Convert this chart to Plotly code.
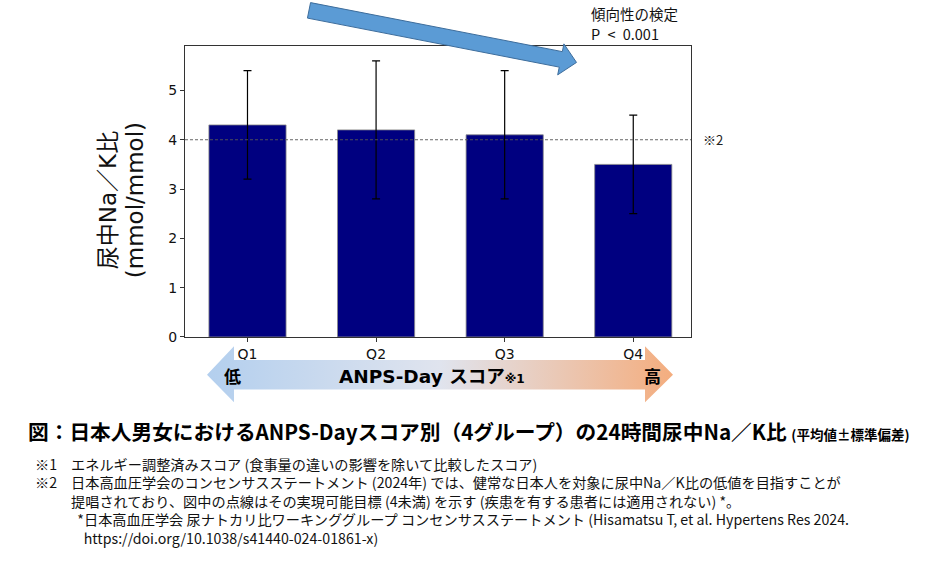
import math
import plotly.graph_objects as go

# ---------------- data ----------------
categories = ["Q1", "Q2", "Q3", "Q4"]
means = [4.3, 4.2, 4.1, 3.5]
sd_plus = [1.1, 1.4, 1.3, 1.0]
sd_minus = [1.1, 1.4, 1.3, 1.0]
target_value = 4
y_ticks = [0, 1, 2, 3, 4, 5]

y_title_line1 = "尿中Na／K比"
y_title_line2 = "(mmol/mmol)"
trend_label = "傾向性の検定"
trend_p = "P\u2002<\u20020.001"
target_mark = "※2"
score_label = "ANPS-Day スコア"
low_label = "低"
high_label = "高"
caption_main = "図：日本人男女におけるANPS-Dayスコア別（4グループ）の24時間尿中Na／K比"
caption_sub = "(平均値±標準偏差)"
footnote_marks = ["※1", "※2"]
footnote_lines = [
    "エネルギー調整済みスコア (食事量の違いの影響を除いて比較したスコア)",
    "日本高血圧学会のコンセンサスステートメント (2024年) では、健常な日本人を対象に尿中Na／K比の低値を目指すことが",
    "提唱されており、図中の点線はその実現可能目標 (4未満) を示す (疾患を有する患者には適用されない) *。",
    "\u00a0\u00a0*日本高血圧学会 尿ナトカリ比ワーキンググループ コンセンサスステートメント (Hisamatsu T, et al. Hypertens Res 2024.",
    "\u00a0\u00a0\u00a0\u00a0https://doi.org/10.1038/s41440-024-01861-x)",
]

# ---------------- layout geometry (pixels) ----------------
W, H = 937, 579
PL, PR, PT, PB = 185, 691, 47, 341.7

LATIN = "DejaVu Sans, Noto Sans CJK JP, sans-serif"
CJK = "Noto Sans CJK JP, sans-serif"

fig = go.Figure()

fig.add_trace(go.Bar(
    x=categories, y=means, width=0.6,
    marker=dict(color="#000080", line=dict(color="#8a8a8a", width=0.8)),
    error_y=dict(type="data", symmetric=False, array=sd_plus, arrayminus=sd_minus,
                 color="#000000", thickness=1.2, width=4),
    xaxis="x", yaxis="y", hoverinfo="skip", showlegend=False,
))

# gradient double arrow (decoration, in pixel space on overlay axes)
gx = [207, 234, 234, 645, 645, 673, 645, 645, 234, 234, 207]
gy = [380, 351, 365, 365, 351, 380, 408, 395, 395, 408, 380]
fig.add_trace(go.Scatter(
    x=gx, y=gy, mode="lines", line=dict(width=0), fill="toself",
    fillgradient=dict(type="horizontal",
                      colorscale=[[0, "#B3CFEE"], [0.5, "#E0E4EE"], [1, "#F4AD7E"]]),
    xaxis="x2", yaxis="y2", hoverinfo="skip", showlegend=False,
))

# blue trend arrow polygon
S = (309.0, 10.5)
T = (576.5, 63.3)
dx, dy = T[0] - S[0], T[1] - S[1]
L = math.hypot(dx, dy)
ux, uy = dx / L, dy / L
nx, ny = -uy, ux
hw, HW, HL = 8, 16, 16
B = (T[0] - HL * ux, T[1] - HL * uy)
pts = [
    (S[0] - hw * nx, S[1] - hw * ny),
    (B[0] - hw * nx, B[1] - hw * ny),
    (B[0] - HW * nx, B[1] - HW * ny),
    T,
    (B[0] + HW * nx, B[1] + HW * ny),
    (B[0] + hw * nx, B[1] + hw * ny),
    (S[0] + hw * nx, S[1] + hw * ny),
]
path = "M " + " L ".join(f"{p[0]:.2f},{p[1]:.2f}" for p in pts) + " Z"
fig.add_shape(type="path", path=path, xref="x2", yref="y2",
              fillcolor="#5B9BD5", line=dict(color="#3D6D9C", width=1), layer="above")

# dashed target line
fig.add_shape(type="line", xref="x domain", yref="y", x0=0, x1=1,
              y0=target_value, y1=target_value,
              line=dict(color="#555555", width=0.9, dash="3px,2px"), layer="above")

ann = []
def A(x, y, text, size, family=CJK, xanchor="left", angle=0, color="#000000",
      yanchor="middle"):
    ann.append(dict(x=x, y=y, xref="x2", yref="y2", text=text, showarrow=False,
                    xanchor=xanchor, yanchor=yanchor, textangle=angle, align="left",
                    borderpad=0,
                    font=dict(family=family, size=size, color=color)))

A(108, 203, y_title_line1, 23, LATIN, "center", -90, "#111111")
A(135, 203, y_title_line2, 23, LATIN, "center", -90, "#111111")
A(590, 13.5, trend_label, 14.5, CJK, color="#111111")
A(590, 34, trend_p, 14.5, CJK, color="#111111")
A(702, 141, target_mark, 13, CJK, color="#222222")
A(232, 381, f"<b>{low_label}</b>", 17, CJK, "center")
A(652, 381, f"<b>{high_label}</b>", 17, CJK, "center")
A(338, 382, f"<b>{score_label}</b><span style='font-size:12px'><b>※1</b></span>", 18.5, LATIN)
A(27, 437, f"<b>{caption_main}</b> <span style='font-size:13.5px'><b>{caption_sub}</b></span>", 20.7, CJK)

# footnotes: marks column + text column (multi-line blocks)
A(34, 480, "<br>".join(footnote_marks), 14.2, CJK, color="#111111")
A(70, 508.5, "<br>".join(footnote_lines), 14.2, CJK, color="#111111")

fig.update_layout(
    width=W, height=H, autosize=False,
    margin=dict(l=0, r=0, t=0, b=0, pad=0),
    paper_bgcolor="#ffffff", plot_bgcolor="rgba(0,0,0,0)",
    showlegend=False, bargap=0.4,
    annotations=ann,
    xaxis=dict(domain=[PL / W, PR / W], range=[-0.486, 3.449], type="category",
               showline=True, mirror=True, linecolor="#333333", linewidth=1.3,
               ticks="outside", ticklen=4, tickcolor="#333333", tickwidth=1,
               showgrid=False, zeroline=False, fixedrange=True,
               tickfont=dict(family=LATIN, size=14, color="#111111"), anchor="y"),
    yaxis=dict(domain=[1 - PB / H, 1 - PT / H], range=[0, (PB - PT) / 50.0],
               tickvals=y_ticks, showline=True, mirror=True, linecolor="#333333",
               linewidth=1.3, ticks="outside", ticklen=4, tickcolor="#333333",
               tickwidth=1, showgrid=False, zeroline=False, fixedrange=True,
               tickfont=dict(family=LATIN, size=14, color="#111111"), anchor="x"),
    xaxis2=dict(domain=[0, 1], range=[0, W], visible=False, fixedrange=True, anchor="y2"),
    yaxis2=dict(domain=[0, 1], range=[H, 0], visible=False, fixedrange=True, anchor="x2"),
)

fig.write_html("out.html")
